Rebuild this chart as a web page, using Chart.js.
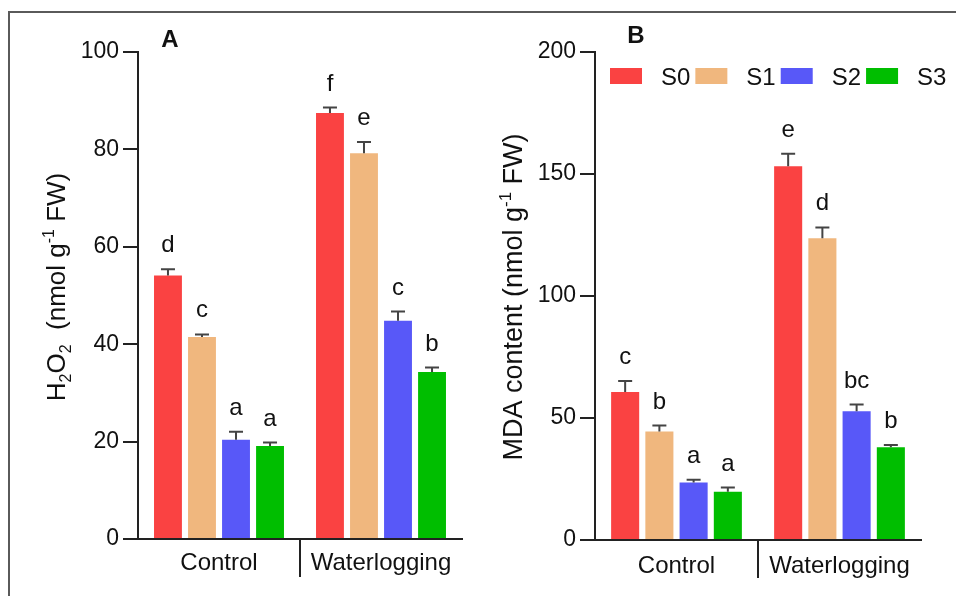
<!DOCTYPE html>
<html>
<head>
<meta charset="utf-8">
<title>H2O2 and MDA content</title>
<script src="https://cdn.jsdelivr.net/npm/chart.js@4.4.1/dist/chart.umd.min.js"></script>
<style>
    html, body { margin: 0; padding: 0; background: #fff; overflow: hidden; }
    #frame {
        position: absolute; left: 8px; top: 11px; width: 948px; height: 585px;
        box-sizing: border-box; border-left: 2px solid #5a5a5a; border-top: 2px solid #5a5a5a;
    }
    canvas { position: absolute; top: 0; }
    #chartA { left: 0; }
    #chartB { left: 478px; }
</style>
</head>
<body>
<div id="frame"></div>
<canvas id="chartA" width="478" height="596"></canvas>
<canvas id="chartB" width="478" height="596"></canvas>
<script>
const FONT = 'Arial, "Liberation Sans", Helvetica, sans-serif';

const groups = ['Control', 'Waterlogging'];
const seriesNames = ['S0', 'S1', 'S2', 'S3'];
const seriesColors = ['#FA4242', '#F0B77E', '#5858F8', '#00BE00'];

// Panel A - H2O2 (nmol g-1 FW), means and error bars
const h2o2S0 = [54.1, 87.5];
const h2o2S1 = [41.5, 79.2];
const h2o2S2 = [20.4, 44.8];
const h2o2S3 = [19.1, 34.3];
const h2o2ErrS0 = [1.3, 1.1];
const h2o2ErrS1 = [0.5, 2.3];
const h2o2ErrS2 = [1.6, 1.9];
const h2o2ErrS3 = [0.7, 0.9];
const h2o2LettersS0 = ['d', 'f'];
const h2o2LettersS1 = ['c', 'e'];
const h2o2LettersS2 = ['a', 'c'];
const h2o2LettersS3 = ['a', 'b'];
const h2o2Ticks = [0, 20, 40, 60, 80, 100];

// Panel B - MDA content (nmol g-1 FW)
const mdaS0 = [60.7, 153.2];
const mdaS1 = [44.5, 123.7];
const mdaS2 = [23.6, 52.8];
const mdaS3 = [19.8, 38.0];
const mdaErrS0 = [4.5, 5.1];
const mdaErrS1 = [2.4, 4.4];
const mdaErrS2 = [1.1, 2.7];
const mdaErrS3 = [1.7, 0.9];
const mdaLettersS0 = ['c', 'e'];
const mdaLettersS1 = ['b', 'd'];
const mdaLettersS2 = ['a', 'bc'];
const mdaLettersS3 = ['a', 'b'];
const mdaTicks = [0, 50, 100, 150, 200];

function buildDatasets(means, errs, letters) {
    return seriesNames.map((name, i) => ({
        label: name,
        data: means[i],
        errors: errs[i],
        letters: letters[i],
        backgroundColor: seriesColors[i],
        borderWidth: 0,
        barPercentage: 0.82,
        categoryPercentage: 0.84
    }));
}

// error bars (upper only) and significance letters
const barMarks = {
    id: 'barMarks',
    afterDatasetsDraw(chart) {
        const ctx = chart.ctx;
        const yScale = chart.scales.y;
        ctx.save();
        chart.data.datasets.forEach((ds, di) => {
            chart.getDatasetMeta(di).data.forEach((bar, i) => {
                const yTop = yScale.getPixelForValue(ds.data[i] + ds.errors[i]);
                ctx.strokeStyle = '#444';
                ctx.lineWidth = 2;
                ctx.beginPath();
                ctx.moveTo(bar.x, bar.y);
                ctx.lineTo(bar.x, yTop);
                ctx.moveTo(bar.x - 7, yTop);
                ctx.lineTo(bar.x + 7, yTop);
                ctx.stroke();
                ctx.fillStyle = '#111';
                ctx.font = '24px ' + FONT;
                ctx.textAlign = 'center';
                ctx.textBaseline = 'alphabetic';
                ctx.fillText(ds.letters[i], bar.x, yTop - 17);
            });
        });
        ctx.restore();
    }
};

function drawVerticalRich(ctx, parts, x, yCenter, size) {
    const fontFor = p => ((p.sub || p.sup) ? Math.round(size * 0.62) : size) + 'px ' + FONT;
    let total = 0;
    parts.forEach(p => {
        ctx.font = fontFor(p);
        p.w = ctx.measureText(p.t).width;
        total += p.w;
    });
    ctx.save();
    ctx.translate(x, yCenter);
    ctx.rotate(-Math.PI / 2);
    ctx.textAlign = 'left';
    ctx.textBaseline = 'alphabetic';
    ctx.fillStyle = '#111';
    let cx = -total / 2;
    parts.forEach(p => {
        ctx.font = fontFor(p);
        const dy = p.sub ? size * 0.22 : (p.sup ? -size * 0.42 : 0);
        ctx.fillText(p.t, cx, dy);
        cx += p.w;
    });
    ctx.restore();
}

// panel letter, rich y title, optional legend
const panelText = {
    id: 'panelText',
    afterDraw(chart, args, o) {
        const ctx = chart.ctx;
        ctx.save();
        ctx.fillStyle = '#111';
        ctx.font = 'bold 24px ' + FONT;
        ctx.textAlign = 'center';
        ctx.textBaseline = 'alphabetic';
        ctx.fillText(o.letter, o.letterX, o.letterY);
        drawVerticalRich(ctx, o.title, o.titleX, o.titleY, o.titleSize);
        if (o.legend) {
            let lx = chart.chartArea.left + 15;
            const ly = 68;
            ctx.font = '24px ' + FONT;
            ctx.textAlign = 'left';
            chart.data.datasets.forEach(ds => {
                ctx.fillStyle = ds.backgroundColor;
                ctx.fillRect(lx, ly, 32, 16);
                ctx.fillStyle = '#111';
                ctx.fillText(ds.label, lx + 51, ly + 17);
                lx += 51 + ctx.measureText(ds.label).width + 5;
            });
        }
        ctx.restore();
    }
};

function makeChart(id, datasets, ticks, axisWidth, rightPad, axisHeight, labelPad, panel) {
    return new Chart(document.getElementById(id), {
        type: 'bar',
        data: { labels: groups, datasets: datasets },
        plugins: [barMarks, panelText],
        options: {
            responsive: false,
            animation: false,
            layout: { padding: { left: 0, top: 52, right: rightPad, bottom: 0 } },
            plugins: {
                legend: { display: false },
                tooltip: { enabled: false },
                panelText: panel
            },
            scales: {
                x: {
                    offset: true,
                    grid: {
                        offset: true,
                        drawOnChartArea: false,
                        tickLength: 38,
                        lineWidth: 2,
                        color: c => c.index === 1 ? '#222' : 'rgba(0,0,0,0)'
                    },
                    border: { display: true, color: '#222', width: 2 },
                    ticks: { padding: labelPad, color: '#111', font: { size: 24, family: FONT } },
                    afterFit: s => { s.height = axisHeight; }
                },
                y: {
                    min: ticks[0],
                    max: ticks[ticks.length - 1],
                    ticks: { stepSize: ticks[1] - ticks[0], padding: 4, color: '#111', font: { size: 23, family: FONT } },
                    grid: { drawOnChartArea: false, tickLength: 15, lineWidth: 2, color: '#222' },
                    border: { display: true, color: '#222', width: 2 },
                    afterFit: s => { s.width = axisWidth; }
                }
            }
        }
    });
}

makeChart('chartA',
    buildDatasets([h2o2S0, h2o2S1, h2o2S2, h2o2S3],
                  [h2o2ErrS0, h2o2ErrS1, h2o2ErrS2, h2o2ErrS3],
                  [h2o2LettersS0, h2o2LettersS1, h2o2LettersS2, h2o2LettersS3]),
    h2o2Ticks, 138, 16, 57, -28,
    {
        letter: 'A', letterX: 170, letterY: 47,
        titleX: 65, titleY: 287, titleSize: 26,
        title: [{ t: 'H' }, { t: '2', sub: true }, { t: 'O' }, { t: '2', sub: true },
                { t: '  (nmol g' }, { t: '-1', sup: true }, { t: ' FW)' }]
    });

makeChart('chartB',
    buildDatasets([mdaS0, mdaS1, mdaS2, mdaS3],
                  [mdaErrS0, mdaErrS1, mdaErrS2, mdaErrS3],
                  [mdaLettersS0, mdaLettersS1, mdaLettersS2, mdaLettersS3]),
    mdaTicks, 117, 35, 56, -26,
    {
        letter: 'B', letterX: 158, letterY: 43,
        titleX: 44, titleY: 297, titleSize: 27,
        title: [{ t: 'MDA content (nmol g' }, { t: '-1', sup: true }, { t: ' FW)' }],
        legend: true
    });
</script>
</body>
</html>
